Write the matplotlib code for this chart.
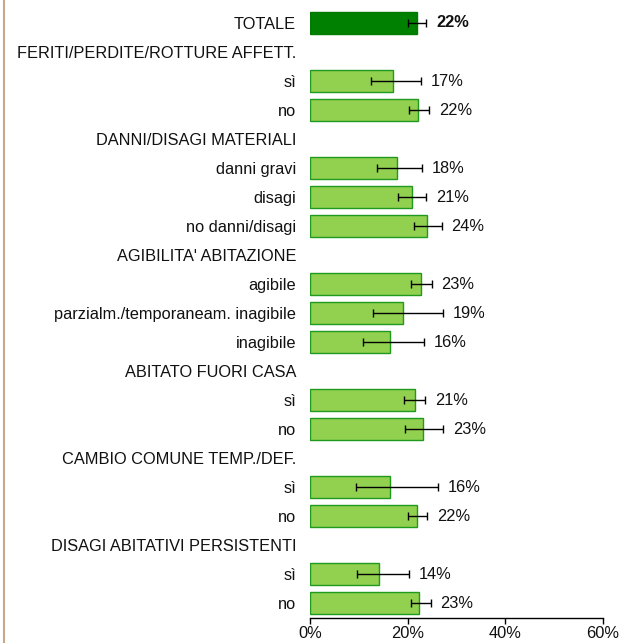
import numpy as np
import matplotlib
matplotlib.use('Agg')
from matplotlib import pyplot as plt
from matplotlib.lines import Line2D

plt.rcParams['font.family'] = ['Liberation Sans', 'DejaVu Sans']

'''Data read off the chart (percent), None = group header row'''
labels = ['TOTALE',
          'FERITI/PERDITE/ROTTURE AFFETT.', 'sì', 'no',
          'DANNI/DISAGI MATERIALI', 'danni gravi', 'disagi', 'no danni/disagi',
          "AGIBILITA' ABITAZIONE", 'agibile', 'parzialm./temporaneam. inagibile', 'inagibile',
          'ABITATO FUORI CASA', 'sì', 'no',
          'CAMBIO COMUNE TEMP./DEF.', 'sì', 'no',
          'DISAGI ABITATIVI PERSISTENTI', 'sì', 'no']
values = [21.9,
          None, 16.9, 22.2,
          None, 17.8, 20.8, 24.0,
          None, 22.7, 19.1, 16.3,
          None, 21.4, 23.1,
          None, 16.3, 22.0,
          None, 14.2, 22.4]
value_text = ['22%',
              '', '17%', '22%',
              '', '18%', '21%', '24%',
              '', '23%', '19%', '16%',
              '', '21%', '23%',
              '', '16%', '22%',
              '', '14%', '23%']
err_low = [20.1,
           None, 12.4, 20.3,
           None, 13.7, 18.0, 21.2,
           None, 20.6, 13.0, 10.9,
           None, 19.3, 19.5,
           None, 9.4, 20.1,
           None, 9.7, 20.6]
err_high = [23.8,
            None, 22.7, 24.4,
            None, 22.9, 23.8, 27.0,
            None, 24.9, 27.2, 23.3,
            None, 23.6, 27.3,
            None, 26.2, 24.0,
            None, 20.3, 24.7]

fig = plt.figure(figsize=(6.2, 6.43), dpi=100)
ax = fig.add_axes([0.5, 0.039, 0.4726, 0.9478])

pos = np.arange(len(labels))
for i, v in enumerate(values):
    if v is None:
        continue
    face = '#008000' if i == 0 else '#92D050'
    edge = '#007a00' if i == 0 else '#1f9a1f'
    ax.barh(pos[i], v, height=0.76, color=face, edgecolor=edge, linewidth=1)
    ax.errorbar(v, pos[i], xerr=[[v - err_low[i]], [err_high[i] - v]], fmt='none',
                ecolor='black', elinewidth=1, capsize=3, capthick=1)
    ax.text(err_high[i] + 2.0, pos[i], value_text[i], va='center', ha='left',
            fontsize=11.8, fontweight='bold' if i == 0 else 'normal', color='#111111')

ax.set_ylim(20.5, -0.5)
ax.set_xlim(0, 60)

ax.set_yticks(pos)
ax.set_yticklabels(labels, fontsize=11.8, color='#111111')
ax.tick_params(axis='y', length=0, pad=10)

ax.set_xticks([0, 20, 40, 60])
ax.set_xticklabels(['0%', '20%', '40%', '60%'], fontsize=11.8, color='#111111')
ax.tick_params(axis='x', length=4, width=1, pad=2)
for s in ['top', 'right', 'left']:
    ax.spines[s].set_visible(False)
ax.spines['bottom'].set_linewidth(1)

# tan frame line at left edge
fig.add_artist(Line2D([0.006, 0.006], [0, 1], transform=fig.transFigure,
                      color='#c8a88a', linewidth=1.5))

plt.savefig('out.png', dpi=100)
